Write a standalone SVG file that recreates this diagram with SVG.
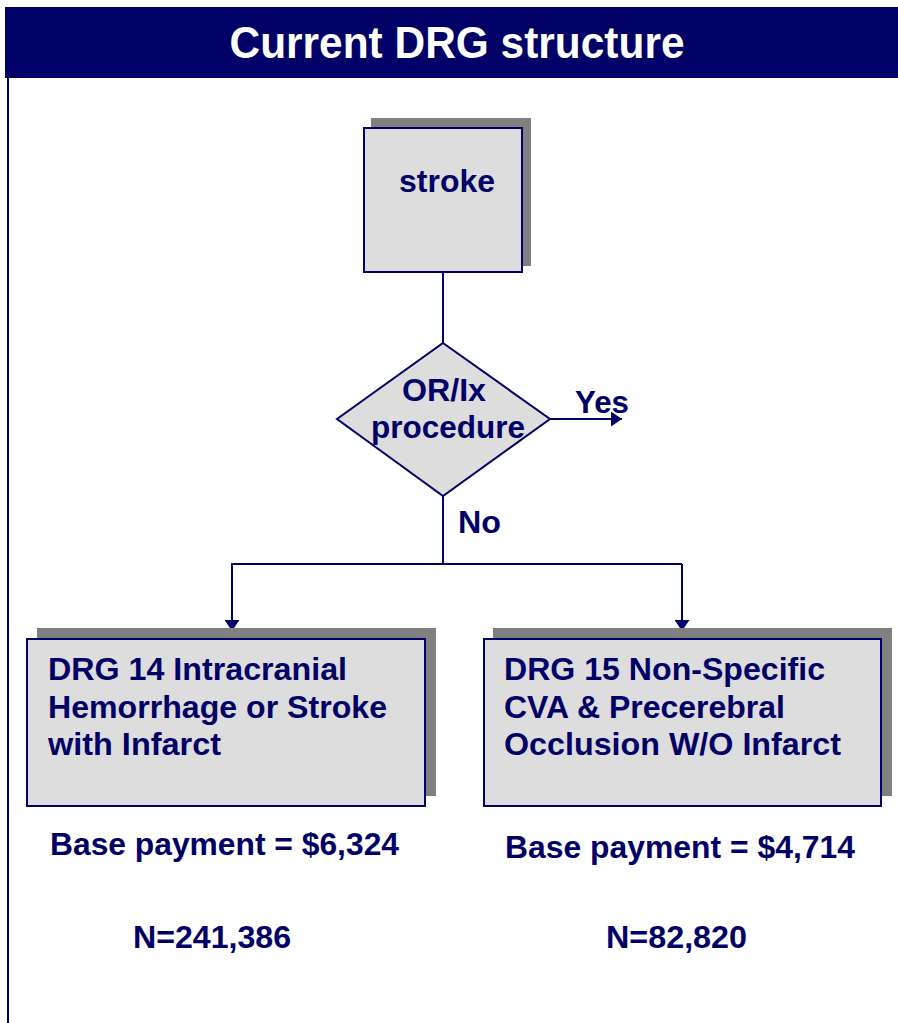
<svg xmlns="http://www.w3.org/2000/svg" width="898" height="1023" viewBox="0 0 898 1023">
  <style>
    .t { font-family: "Liberation Sans", Arial, sans-serif; font-weight: bold; fill: #000066; font-size: 30.5px; }
    .box { fill: #dddddd; stroke: #000066; stroke-width: 2; }
    .shadow { fill: #808080; }
    .ln { stroke: #000066; stroke-width: 2; fill: none; }
  </style>
  <defs>
    <marker id="arrow" viewBox="0 0 11 15" refX="11" refY="7.5" markerWidth="11" markerHeight="15" markerUnits="userSpaceOnUse" orient="auto">
      <path d="M0,0 L11,7.5 L0,15 Z" fill="#000066"/>
    </marker>
  </defs>

  <rect width="898" height="1023" fill="#ffffff"/>

  <!-- title band and left rule -->
  <g id="title">
    <rect x="5" y="7" width="893" height="71" fill="#000066"/>
    <text x="457" y="58" text-anchor="middle" font-family="Liberation Sans, Arial, sans-serif" font-weight="bold" font-size="44" fill="#ffffff" textLength="455" lengthAdjust="spacingAndGlyphs">Current DRG structure</text>
  </g>
  <line x1="8" y1="78" x2="8" y2="1023" stroke="#000066" stroke-width="2"/>

  <!-- connectors -->
  <g id="connectors">
    <line class="ln" x1="443" y1="272" x2="443" y2="343"/>
    <line class="ln" x1="550" y1="419" x2="622" y2="419" marker-end="url(#arrow)"/>
    <line class="ln" x1="443" y1="496" x2="443" y2="564"/>
    <line class="ln" x1="231" y1="564" x2="682" y2="564"/>
    <line class="ln" x1="232" y1="564" x2="232" y2="631" marker-end="url(#arrow)"/>
    <line class="ln" x1="682" y1="564" x2="682" y2="631" marker-end="url(#arrow)"/>
  </g>

  <!-- start node -->
  <g id="stroke">
    <rect class="shadow" x="371" y="118" width="160" height="148"/>
    <rect class="box" x="364" y="128" width="158" height="144"/>
    <text class="t" x="399" y="192" textLength="96" lengthAdjust="spacingAndGlyphs">stroke</text>
  </g>

  <!-- decision -->
  <g id="decision">
    <polygon class="box" points="443,343 550,419 443,496 337,419"/>
    <text class="t" x="402" y="401" textLength="84" lengthAdjust="spacingAndGlyphs">OR/Ix</text>
    <text class="t" x="371" y="438" textLength="154" lengthAdjust="spacingAndGlyphs">procedure</text>
  </g>
  <text class="t" x="575" y="413" textLength="54" lengthAdjust="spacingAndGlyphs">Yes</text>
  <text class="t" x="458" y="533" textLength="43" lengthAdjust="spacingAndGlyphs">No</text>

  <!-- DRG 14 -->
  <g id="drg14">
    <rect class="shadow" x="37" y="628" width="399" height="168"/>
    <rect class="box" x="27" y="639" width="398" height="167"/>
    <text class="t" x="48" y="680" textLength="299" lengthAdjust="spacingAndGlyphs">DRG 14 Intracranial</text>
    <text class="t" x="48" y="718" textLength="339" lengthAdjust="spacingAndGlyphs">Hemorrhage or Stroke</text>
    <text class="t" x="48" y="755" textLength="173" lengthAdjust="spacingAndGlyphs">with Infarct</text>
  </g>
  <text class="t" x="50" y="855" textLength="349" lengthAdjust="spacingAndGlyphs">Base payment = $6,324</text>
  <text class="t" x="133" y="948" textLength="158" lengthAdjust="spacingAndGlyphs">N=241,386</text>

  <!-- DRG 15 -->
  <g id="drg15">
    <rect class="shadow" x="493" y="628" width="399" height="168"/>
    <rect class="box" x="484" y="639" width="397" height="167"/>
    <text class="t" x="504" y="680" textLength="321" lengthAdjust="spacingAndGlyphs">DRG 15 Non-Specific</text>
    <text class="t" x="504" y="718" textLength="281" lengthAdjust="spacingAndGlyphs">CVA &amp; Precerebral</text>
    <text class="t" x="504" y="755" textLength="337" lengthAdjust="spacingAndGlyphs">Occlusion W/O Infarct</text>
  </g>
  <text class="t" x="505" y="858" textLength="350" lengthAdjust="spacingAndGlyphs">Base payment = $4,714</text>
  <text class="t" x="606" y="948" textLength="141" lengthAdjust="spacingAndGlyphs">N=82,820</text>
</svg>
